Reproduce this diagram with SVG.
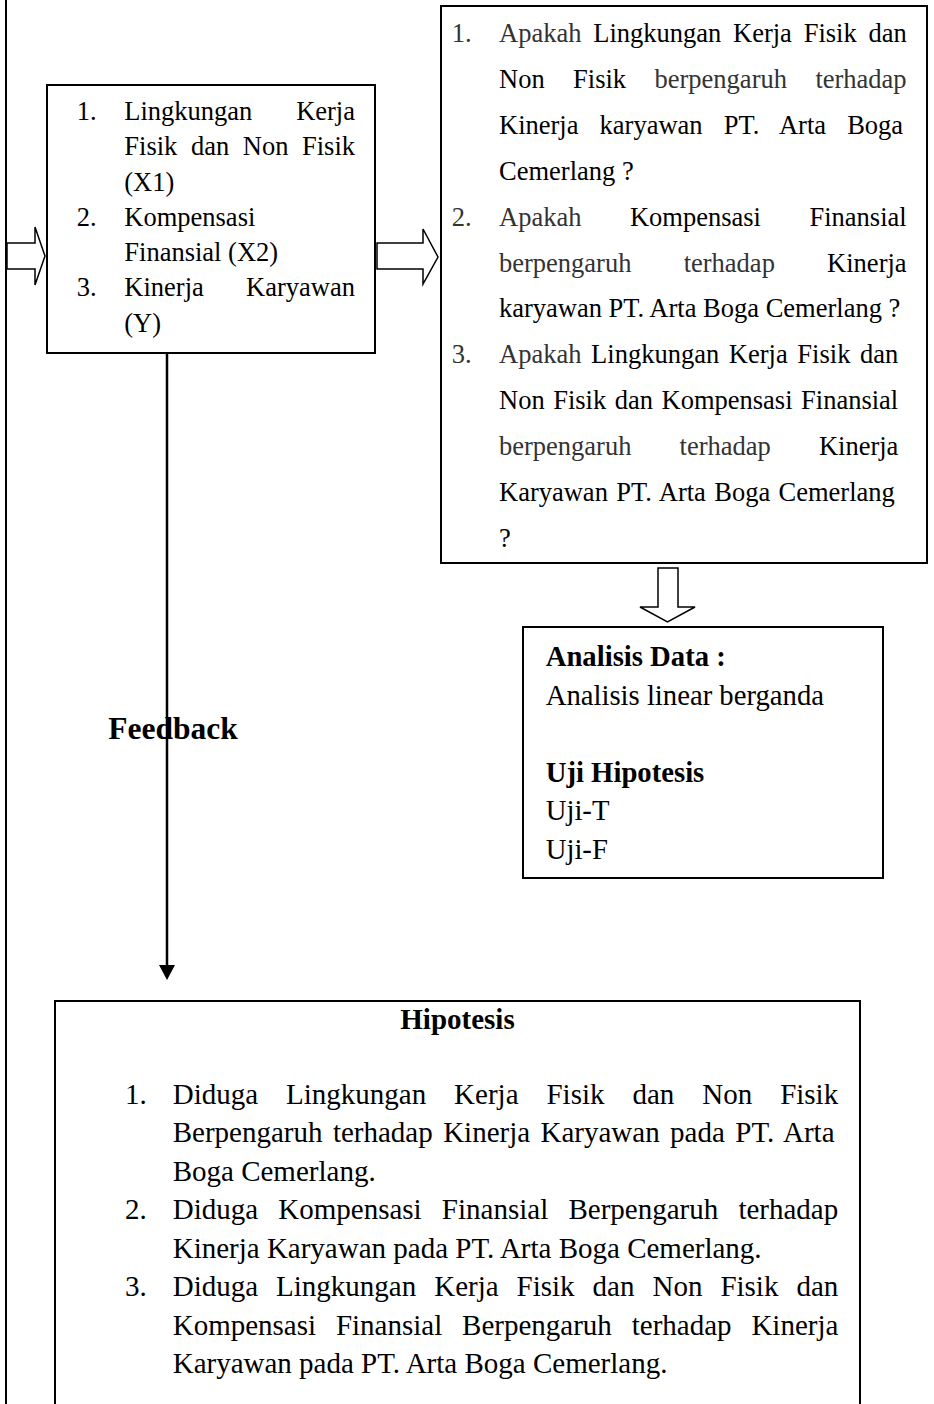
<svg xmlns="http://www.w3.org/2000/svg" width="934" height="1404" viewBox="0 0 934 1404">
<style>
.t{font-family:"Liberation Serif","Times New Roman",serif;fill:#000}
.s{font-size:26.5px}
.a{font-size:28.7px}
.h{font-size:29px}
.b{font-weight:bold}
.g{fill:#333}
.box{fill:#fff;stroke:#000;stroke-width:2}
.ha{fill:#fff;stroke:#000;stroke-width:1.5;stroke-linejoin:miter}
.ln{stroke:#000;stroke-width:2.5;fill:none}
</style>
<rect width="934" height="1404" fill="#fff"/>
<g id="connectors">
<line class="ln" x1="6" y1="0" x2="6" y2="1404" style="stroke-width:2"/>
<polygon class="ha" points="7,243 35,243 35,227 45,256 35,285 35,269 7,269"/>
<polygon class="ha" points="377,243 423,243 423,229 438,257 423,284 423,269 377,269"/>
<polygon class="ha" points="658,568 678,568 678,607 695,607 667.5,622 640,607 658,607"/>
<line class="ln" x1="167" y1="353" x2="167" y2="966"/>
<polygon points="159,965 175,965 167,980" fill="#000"/>
<text class="t b" x="108.3" y="739" style="font-size:31.5px">Feedback</text>
</g>
<g id="variables">
<rect class="box" x="47" y="85" width="328" height="268"/>
<g class="t s">
<text x="76.7" y="120">1.</text>
<text x="124.3" y="120">Lingkungan</text>
<text x="355" y="120" text-anchor="end">Kerja</text>
<text x="124.3" y="155.3" word-spacing="6.97">Fisik dan Non Fisik</text>
<text x="124.3" y="190.5">(X1)</text>
<text x="76.7" y="225.8">2.</text>
<text x="124.3" y="225.8">Kompensasi</text>
<text x="124.3" y="261">Finansial (X2)</text>
<text x="76.7" y="296.3">3.</text>
<text x="124.3" y="296.3">Kinerja</text>
<text x="355" y="296.3" text-anchor="end">Karyawan</text>
<text x="124.3" y="331.5">(Y)</text>
</g>
</g>
<g id="rumusan">
<rect class="box" x="441" y="6" width="486" height="557"/>
<g class="t s">
<text x="451.7" y="42" class="g">1.</text>
<text x="499" y="42" word-spacing="5.15"><tspan class="g">Apakah</tspan> Lingkungan Kerja Fisik dan</text>
<text x="499" y="87.9" word-spacing="21.8">Non Fisik <tspan class="g">berpengaruh terhadap</tspan></text>
<text x="499" y="133.8" word-spacing="14.5">Kinerja karyawan PT. Arta Boga</text>
<text x="499" y="179.7">Cemerlang ?</text>
<text x="451.7" y="225.6" class="g">2.</text>
<text x="499" y="225.6" word-spacing="41.9"><tspan class="g">Apakah</tspan> Kompensasi Finansial</text>
<text x="499" y="271.5" word-spacing="45.6"><tspan class="g">berpengaruh terhadap</tspan> Kinerja</text>
<text x="499" y="317.4">karyawan PT. Arta Boga Cemerlang ?</text>
<text x="451.7" y="363.3" class="g">3.</text>
<text x="499" y="363.3" word-spacing="3.05"><tspan class="g">Apakah</tspan> Lingkungan Kerja Fisik dan</text>
<text x="499" y="409.2" word-spacing="1.9">Non Fisik dan Kompensasi Finansial</text>
<text x="499" y="455.1" word-spacing="41.5"><tspan class="g">berpengaruh terhadap</tspan> Kinerja</text>
<text x="499" y="501" word-spacing="1.75">Karyawan PT. Arta Boga Cemerlang</text>
<text x="499" y="546.9">?</text>
</g>
</g>
<g id="analisis">
<rect class="box" x="523" y="627" width="360" height="251"/>
<g class="t a">
<text x="545.7" y="666" class="b">Analisis Data :</text>
<text x="545.7" y="704.5">Analisis linear berganda</text>
<text x="545.7" y="781.5" class="b">Uji Hipotesis</text>
<text x="545.7" y="820">Uji-T</text>
<text x="545.7" y="858.5">Uji-F</text>
</g>
</g>
<g id="hipotesis">
<path class="box" d="M55,1410 V1001 H860 V1410"/>
<g class="t h">
<text x="457.5" y="1029" text-anchor="middle" class="b">Hipotesis</text>
<text x="125" y="1104">1.</text>
<text x="172.7" y="1104" word-spacing="20.7">Diduga Lingkungan Kerja Fisik dan Non Fisik</text>
<text x="172.7" y="1142.45" word-spacing="3.17">Berpengaruh terhadap Kinerja Karyawan pada PT. Arta</text>
<text x="172.7" y="1180.9">Boga Cemerlang.</text>
<text x="125" y="1219.35">2.</text>
<text x="172.7" y="1219.35" word-spacing="12.97">Diduga Kompensasi Finansial Berpengaruh terhadap</text>
<text x="172.7" y="1257.8">Kinerja Karyawan pada PT. Arta Boga Cemerlang.</text>
<text x="125" y="1296.25">3.</text>
<text x="172.7" y="1296.25" word-spacing="10.74">Diduga Lingkungan Kerja Fisik dan Non Fisik dan</text>
<text x="172.7" y="1334.7" word-spacing="12.6">Kompensasi Finansial Berpengaruh terhadap Kinerja</text>
<text x="172.7" y="1373.15">Karyawan pada PT. Arta Boga Cemerlang.</text>
</g>
</g>
</svg>
